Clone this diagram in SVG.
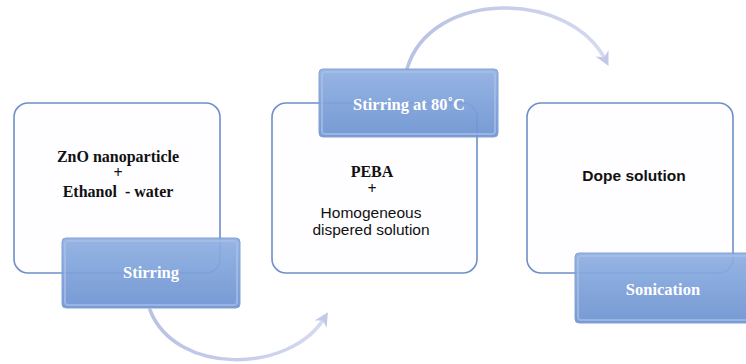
<svg xmlns="http://www.w3.org/2000/svg" width="746" height="364" viewBox="0 0 746 364">
<defs>
<style>
.card{fill:#fefdff;stroke:#6f8fc8;stroke-width:1.6}
.tab{fill:url(#blue);stroke:#7d9bd0;stroke-width:1;opacity:0.93}
.bev{fill:none;stroke:#a9c0e8;stroke-width:2;opacity:0.7}
.tabt{font-family:"Liberation Serif",serif;font-weight:bold;font-size:16.5px;fill:#ffffff;text-anchor:middle}
.ser{font-family:"Liberation Serif",serif;font-weight:bold;font-size:16px;fill:#111;text-anchor:middle;white-space:pre}
.sans{font-family:"Liberation Sans",sans-serif;font-size:15.5px;fill:#111;text-anchor:middle}
.conn{fill:none;stroke:url(#arc);stroke-width:3.5;stroke-linecap:round}
</style>
<linearGradient id="blue" x1="0" y1="0" x2="0" y2="1">
<stop offset="0" stop-color="#8fb0e2"/>
<stop offset="1" stop-color="#6d93d2"/>
</linearGradient>
<linearGradient id="arc" x1="0" y1="0" x2="1" y2="0">
<stop offset="0" stop-color="#b8c2e4"/>
<stop offset="0.5" stop-color="#c7cdea"/>
<stop offset="1" stop-color="#d6daf0"/>
</linearGradient>
<marker id="ah" viewBox="0 0 10 10" refX="6" refY="5" markerWidth="4" markerHeight="4" orient="auto" markerUnits="strokeWidth">
<path d="M0,0 L10,5 L0,10 L3,5 Z" fill="#c3c9e8"/>
</marker>
</defs>
<rect width="746" height="364" fill="#ffffff"/>
<g id="connectors">
<path class="conn" d="M150,310 C175,375 290,375 325,317" marker-end="url(#ah)"/>
<path class="conn" d="M407,69 C430,-11 570,-11 606,61" marker-end="url(#ah)"/>
</g>
<g id="node1">
<rect class="card" x="14" y="103" width="206" height="170" rx="14"/>
<text class="ser" x="118" y="162">ZnO nanoparticle</text>
<text class="ser" x="118" y="178">+</text>
<text class="ser" x="118" y="197" xml:space="preserve">Ethanol  - water</text>
</g>
<g id="tab1">
<rect class="tab" x="62" y="238" width="178" height="70" rx="4"/>
<rect class="bev" x="65" y="241" width="172" height="64" rx="3"/>
<text class="tabt" x="151" y="278">Stirring</text>
</g>
<g id="node2">
<rect class="card" x="272" y="103" width="205" height="170" rx="14"/>
<text class="ser" x="372" y="177">PEBA</text>
<text class="ser" x="372" y="194">+</text>
<text class="sans" x="371" y="218">Homogeneous</text>
<text class="sans" x="371" y="235">dispered solution</text>
</g>
<g id="tab2">
<rect class="tab" x="319" y="69" width="179" height="68" rx="4"/>
<rect class="bev" x="322" y="72" width="173" height="62" rx="3"/>
<text class="tabt" x="409" y="110">Stirring at 80˚C</text>
</g>
<g id="node3">
<rect class="card" x="527" y="103" width="206" height="170" rx="14"/>
<text class="sans" x="634" y="181" font-weight="bold" font-size="14.5">Dope solution</text>
</g>
<g id="tab3">
<rect class="tab" x="575" y="253" width="180" height="70" rx="4"/>
<rect class="bev" x="578" y="256" width="174" height="64" rx="3"/>
<text class="tabt" x="663" y="295">Sonication</text>
</g>
</svg>
